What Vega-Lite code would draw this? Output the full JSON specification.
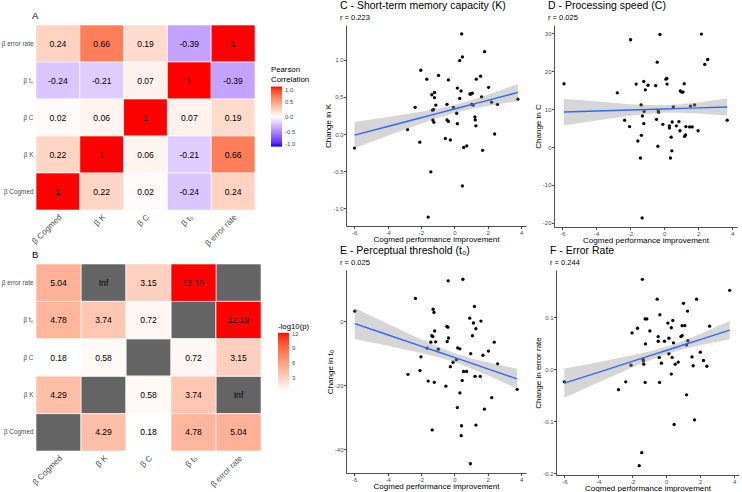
{
  "$schema": "https://vega.github.io/schema/vega-lite/v6.json",
  "padding": {"left": 1, "top": 1, "right": 0, "bottom": 0},
  "background": "white",
  "config": {
    "font": "Liberation Sans",
    "view": {"stroke": null},
    "locale": {"number": {"decimal": ".", "thousands": ",", "grouping": [3], "currency": ["$", ""], "minus": "-"}},
    "title": {"anchor": "start", "frame": "group", "fontWeight": "normal", "color": "black", "font": "Liberation Sans"},
    "axis": {"labelFont": "Liberation Sans", "titleFont": "Liberation Sans", "titleFontWeight": "normal", "titleColor": "black", "labelColor": "#4d4d4d", "grid": false, "labelOverlap": false},
    "axisBand": {"domain": false, "ticks": false, "labelPadding": 3, "labelColor": "#4d4d4d"},
    "axisQuantitative": {"domain": true, "domainColor": "#222222", "domainWidth": 0.8, "ticks": true, "tickColor": "#222222", "tickSize": 2.5, "tickWidth": 0.8, "labelFontSize": 6, "labelPadding": 0.5, "titleFontSize": 8, "titlePadding": 0, "labelFlush": false, "labelOverlap": false, "tickCount": 20},
    "legend": {"titleFont": "Liberation Sans", "labelFont": "Liberation Sans", "titleFontWeight": "normal", "titleColor": "black", "labelColor": "#4d4d4d", "labelFontSize": 6, "titleFontSize": 7.8, "gradientStrokeWidth": 0}
  },
  "datasets": {
    "corr": [
      {"row": "β error rate", "col": "β Cogmed", "r": 0.24},
      {"row": "β error rate", "col": "β K", "r": 0.66},
      {"row": "β error rate", "col": "β C", "r": 0.19},
      {"row": "β error rate", "col": "β t₀", "r": -0.39},
      {"row": "β error rate", "col": "β error rate", "r": 1},
      {"row": "β t₀", "col": "β Cogmed", "r": -0.24},
      {"row": "β t₀", "col": "β K", "r": -0.21},
      {"row": "β t₀", "col": "β C", "r": 0.07},
      {"row": "β t₀", "col": "β t₀", "r": 1},
      {"row": "β t₀", "col": "β error rate", "r": -0.39},
      {"row": "β C", "col": "β Cogmed", "r": 0.02},
      {"row": "β C", "col": "β K", "r": 0.06},
      {"row": "β C", "col": "β C", "r": 1},
      {"row": "β C", "col": "β t₀", "r": 0.07},
      {"row": "β C", "col": "β error rate", "r": 0.19},
      {"row": "β K", "col": "β Cogmed", "r": 0.22},
      {"row": "β K", "col": "β K", "r": 1},
      {"row": "β K", "col": "β C", "r": 0.06},
      {"row": "β K", "col": "β t₀", "r": -0.21},
      {"row": "β K", "col": "β error rate", "r": 0.66},
      {"row": "β Cogmed", "col": "β Cogmed", "r": 1},
      {"row": "β Cogmed", "col": "β K", "r": 0.22},
      {"row": "β Cogmed", "col": "β C", "r": 0.02},
      {"row": "β Cogmed", "col": "β t₀", "r": -0.24},
      {"row": "β Cogmed", "col": "β error rate", "r": 0.24}
    ],
    "logp": [
      {"row": "β error rate", "col": "β Cogmed", "p": 5.04, "label": "5.04"},
      {"row": "β error rate", "col": "β K", "p": null, "label": "Inf"},
      {"row": "β error rate", "col": "β C", "p": 3.15, "label": "3.15"},
      {"row": "β error rate", "col": "β t₀", "p": 12.19, "label": "12.19"},
      {"row": "β error rate", "col": "β error rate", "p": null, "label": ""},
      {"row": "β t₀", "col": "β Cogmed", "p": 4.78, "label": "4.78"},
      {"row": "β t₀", "col": "β K", "p": 3.74, "label": "3.74"},
      {"row": "β t₀", "col": "β C", "p": 0.72, "label": "0.72"},
      {"row": "β t₀", "col": "β t₀", "p": null, "label": ""},
      {"row": "β t₀", "col": "β error rate", "p": 12.19, "label": "12.19"},
      {"row": "β C", "col": "β Cogmed", "p": 0.18, "label": "0.18"},
      {"row": "β C", "col": "β K", "p": 0.58, "label": "0.58"},
      {"row": "β C", "col": "β C", "p": null, "label": ""},
      {"row": "β C", "col": "β t₀", "p": 0.72, "label": "0.72"},
      {"row": "β C", "col": "β error rate", "p": 3.15, "label": "3.15"},
      {"row": "β K", "col": "β Cogmed", "p": 4.29, "label": "4.29"},
      {"row": "β K", "col": "β K", "p": null, "label": ""},
      {"row": "β K", "col": "β C", "p": 0.58, "label": "0.58"},
      {"row": "β K", "col": "β t₀", "p": 3.74, "label": "3.74"},
      {"row": "β K", "col": "β error rate", "p": null, "label": "Inf"},
      {"row": "β Cogmed", "col": "β Cogmed", "p": null, "label": ""},
      {"row": "β Cogmed", "col": "β K", "p": 4.29, "label": "4.29"},
      {"row": "β Cogmed", "col": "β C", "p": 0.18, "label": "0.18"},
      {"row": "β Cogmed", "col": "β t₀", "p": 4.78, "label": "4.78"},
      {"row": "β Cogmed", "col": "β error rate", "p": 5.04, "label": "5.04"}
    ],
    "scatter": [
      {"panel": "C", "x": -5.98, "y": -0.19}, {"panel": "C", "x": -2.80, "y": 0.06}, {"panel": "C", "x": -2.35, "y": 0.36}, {"panel": "C", "x": -2.07, "y": -0.11}, {"panel": "C", "x": -2.01, "y": 0.86}, {"panel": "C", "x": -1.65, "y": 0.74}, {"panel": "C", "x": -1.57, "y": -1.12}, {"panel": "C", "x": -1.41, "y": -0.51}, {"panel": "C", "x": -1.35, "y": 0.53}, {"panel": "C", "x": -1.31, "y": 0.32}, {"panel": "C", "x": -1.25, "y": 0.33}, {"panel": "C", "x": -1.29, "y": 0.19}, {"panel": "C", "x": -1.19, "y": 0.56}, {"panel": "C", "x": -1.19, "y": 0.49}, {"panel": "C", "x": -1.23, "y": 0.16}, {"panel": "C", "x": -1.11, "y": 0.39}, {"panel": "C", "x": -0.95, "y": 0.79}, {"panel": "C", "x": -0.54, "y": -0.06}, {"panel": "C", "x": -0.44, "y": 0.40}, {"panel": "C", "x": -0.44, "y": 0.19}, {"panel": "C", "x": -0.36, "y": 0.73}, {"panel": "C", "x": -0.36, "y": 0.17}, {"panel": "C", "x": -0.24, "y": -0.08}, {"panel": "C", "x": -0.06, "y": 0.36}, {"panel": "C", "x": 0.14, "y": 0.28}, {"panel": "C", "x": 0.18, "y": 0.62}, {"panel": "C", "x": 0.18, "y": 0.14}, {"panel": "C", "x": 0.32, "y": 0.99}, {"panel": "C", "x": 0.32, "y": 0.48}, {"panel": "C", "x": 0.40, "y": 0.58}, {"panel": "C", "x": 0.44, "y": 1.35}, {"panel": "C", "x": 0.48, "y": 1.04}, {"panel": "C", "x": 0.48, "y": -0.70}, {"panel": "C", "x": 0.56, "y": -0.18}, {"panel": "C", "x": 0.74, "y": -0.16}, {"panel": "C", "x": 0.93, "y": 0.54}, {"panel": "C", "x": 0.99, "y": 0.54}, {"panel": "C", "x": 1.03, "y": 0.40}, {"panel": "C", "x": 1.07, "y": 0.55}, {"panel": "C", "x": 1.13, "y": 0.39}, {"panel": "C", "x": 1.23, "y": 0.23}, {"panel": "C", "x": 1.25, "y": 0.19}, {"panel": "C", "x": 1.29, "y": 0.11}, {"panel": "C", "x": 1.31, "y": 0.74}, {"panel": "C", "x": 1.57, "y": 0.78}, {"panel": "C", "x": 1.63, "y": 0.50}, {"panel": "C", "x": 1.69, "y": -0.22}, {"panel": "C", "x": 1.81, "y": 1.11}, {"panel": "C", "x": 2.05, "y": 0.63}, {"panel": "C", "x": 2.23, "y": 0.43}, {"panel": "C", "x": 2.41, "y": 0.00}, {"panel": "C", "x": 2.58, "y": 0.40}, {"panel": "C", "x": 3.80, "y": 0.47},
      {"panel": "D", "x": -5.90, "y": 16.7}, {"panel": "D", "x": -2.76, "y": 14.3}, {"panel": "D", "x": -2.33, "y": 7.1}, {"panel": "D", "x": -2.04, "y": 5.4}, {"panel": "D", "x": -1.98, "y": 28.3}, {"panel": "D", "x": -1.65, "y": 16.6}, {"panel": "D", "x": -1.55, "y": 1.6}, {"panel": "D", "x": -1.40, "y": -2.9}, {"panel": "D", "x": -1.36, "y": 11.1}, {"panel": "D", "x": -1.34, "y": 3.1}, {"panel": "D", "x": -1.30, "y": -18.7}, {"panel": "D", "x": -1.28, "y": 8.2}, {"panel": "D", "x": -1.20, "y": 17.3}, {"panel": "D", "x": -1.20, "y": 6.2}, {"panel": "D", "x": -1.18, "y": 9.4}, {"panel": "D", "x": -1.11, "y": 15.1}, {"panel": "D", "x": -0.95, "y": 16.3}, {"panel": "D", "x": -0.50, "y": 16.2}, {"panel": "D", "x": -0.45, "y": 7.3}, {"panel": "D", "x": -0.41, "y": 22.4}, {"panel": "D", "x": -0.37, "y": 0.2}, {"panel": "D", "x": -0.35, "y": 9.6}, {"panel": "D", "x": -0.33, "y": 9.2}, {"panel": "D", "x": -0.25, "y": 29.7}, {"panel": "D", "x": -0.08, "y": 6.0}, {"panel": "D", "x": 0.10, "y": 17.9}, {"panel": "D", "x": 0.16, "y": 18.1}, {"panel": "D", "x": 0.17, "y": 16.6}, {"panel": "D", "x": 0.31, "y": 5.6}, {"panel": "D", "x": 0.31, "y": 5.0}, {"panel": "D", "x": 0.37, "y": -2.9}, {"panel": "D", "x": 0.41, "y": 2.6}, {"panel": "D", "x": 0.45, "y": -1.0}, {"panel": "D", "x": 0.47, "y": 6.6}, {"panel": "D", "x": 0.54, "y": 10.6}, {"panel": "D", "x": 0.72, "y": 5.6}, {"panel": "D", "x": 0.87, "y": 6.7}, {"panel": "D", "x": 0.93, "y": 4.3}, {"panel": "D", "x": 0.95, "y": 14.8}, {"panel": "D", "x": 1.03, "y": 14.5}, {"panel": "D", "x": 1.11, "y": 14.5}, {"panel": "D", "x": 1.18, "y": 16.7}, {"panel": "D", "x": 1.20, "y": 2.8}, {"panel": "D", "x": 1.26, "y": 3.2}, {"panel": "D", "x": 1.28, "y": 5.4}, {"panel": "D", "x": 1.50, "y": 5.3}, {"panel": "D", "x": 1.55, "y": 10.8}, {"panel": "D", "x": 1.65, "y": 5.3}, {"panel": "D", "x": 1.79, "y": 11.1}, {"panel": "D", "x": 2.00, "y": 4.3}, {"panel": "D", "x": 2.19, "y": 29.8}, {"panel": "D", "x": 2.39, "y": 21.8}, {"panel": "D", "x": 2.56, "y": 23.1}, {"panel": "D", "x": 3.71, "y": 7.1},
      {"panel": "E", "x": -5.96, "y": 3.2}, {"panel": "E", "x": -2.78, "y": -16.6}, {"panel": "E", "x": -2.33, "y": 7.2}, {"panel": "E", "x": -2.06, "y": -15.4}, {"panel": "E", "x": -2.00, "y": -11.1}, {"panel": "E", "x": -1.63, "y": -8.4}, {"panel": "E", "x": -1.57, "y": -18.7}, {"panel": "E", "x": -1.41, "y": -6.5}, {"panel": "E", "x": -1.35, "y": -4.5}, {"panel": "E", "x": -1.33, "y": -34.0}, {"panel": "E", "x": -1.29, "y": -4.7}, {"panel": "E", "x": -1.27, "y": 3.8}, {"panel": "E", "x": -1.22, "y": 2.8}, {"panel": "E", "x": -1.20, "y": -19.1}, {"panel": "E", "x": -1.18, "y": -3.0}, {"panel": "E", "x": -1.12, "y": -6.4}, {"panel": "E", "x": -0.96, "y": -8.7}, {"panel": "E", "x": -0.51, "y": -20.3}, {"panel": "E", "x": -0.45, "y": -1.6}, {"panel": "E", "x": -0.39, "y": -1.8}, {"panel": "E", "x": -0.43, "y": -6.3}, {"panel": "E", "x": -0.35, "y": -5.2}, {"panel": "E", "x": -0.37, "y": 12.7}, {"panel": "E", "x": -0.24, "y": -14.2}, {"panel": "E", "x": -0.08, "y": -12.8}, {"panel": "E", "x": 0.12, "y": -12.0}, {"panel": "E", "x": 0.18, "y": -27.0}, {"panel": "E", "x": 0.20, "y": -8.3}, {"panel": "E", "x": 0.33, "y": -8.6}, {"panel": "E", "x": 0.33, "y": -22.4}, {"panel": "E", "x": 0.41, "y": -35.8}, {"panel": "E", "x": 0.43, "y": -32.7}, {"panel": "E", "x": 0.47, "y": -18.5}, {"panel": "E", "x": 0.51, "y": 13.2}, {"panel": "E", "x": 0.55, "y": -15.7}, {"panel": "E", "x": 0.73, "y": -15.7}, {"panel": "E", "x": 0.92, "y": 1.0}, {"panel": "E", "x": 0.96, "y": -44.6}, {"panel": "E", "x": 0.98, "y": -10.1}, {"panel": "E", "x": 1.08, "y": -4.5}, {"panel": "E", "x": 1.14, "y": -0.5}, {"panel": "E", "x": 1.20, "y": 4.7}, {"panel": "E", "x": 1.24, "y": -17.2}, {"panel": "E", "x": 1.29, "y": -2.3}, {"panel": "E", "x": 1.29, "y": -32.5}, {"panel": "E", "x": 1.59, "y": 0.1}, {"panel": "E", "x": 1.55, "y": -17.2}, {"panel": "E", "x": 1.71, "y": -10.6}, {"panel": "E", "x": 1.80, "y": -27.5}, {"panel": "E", "x": 2.04, "y": -9.3}, {"panel": "E", "x": 2.24, "y": -23.9}, {"panel": "E", "x": 2.39, "y": -6.5}, {"panel": "E", "x": 2.59, "y": -13.3}, {"panel": "E", "x": 3.76, "y": -21.3},
      {"panel": "F", "x": -6.00, "y": -0.024}, {"panel": "F", "x": -2.81, "y": -0.039}, {"panel": "F", "x": -2.38, "y": -0.024}, {"panel": "F", "x": -2.07, "y": 0.008}, {"panel": "F", "x": -2.01, "y": 0.070}, {"panel": "F", "x": -1.69, "y": 0.079}, {"panel": "F", "x": -1.59, "y": -0.185}, {"panel": "F", "x": -1.44, "y": -0.160}, {"panel": "F", "x": -1.40, "y": 0.173}, {"panel": "F", "x": -1.36, "y": 0.019}, {"panel": "F", "x": -1.34, "y": 0.016}, {"panel": "F", "x": -1.32, "y": 0.010}, {"panel": "F", "x": -1.24, "y": 0.097}, {"panel": "F", "x": -1.24, "y": -0.025}, {"panel": "F", "x": -1.22, "y": 0.049}, {"panel": "F", "x": -1.14, "y": 0.097}, {"panel": "F", "x": -0.96, "y": 0.074}, {"panel": "F", "x": -0.53, "y": 0.135}, {"panel": "F", "x": -0.47, "y": 0.063}, {"panel": "F", "x": -0.47, "y": 0.054}, {"panel": "F", "x": -0.41, "y": 0.023}, {"panel": "F", "x": -0.39, "y": -0.025}, {"panel": "F", "x": -0.37, "y": 0.105}, {"panel": "F", "x": -0.28, "y": 0.012}, {"panel": "F", "x": -0.10, "y": 0.054}, {"panel": "F", "x": 0.10, "y": 0.089}, {"panel": "F", "x": 0.16, "y": 0.030}, {"panel": "F", "x": 0.16, "y": 0.060}, {"panel": "F", "x": 0.30, "y": 0.080}, {"panel": "F", "x": 0.30, "y": -0.009}, {"panel": "F", "x": 0.35, "y": 0.023}, {"panel": "F", "x": 0.39, "y": 0.094}, {"panel": "F", "x": 0.43, "y": 0.051}, {"panel": "F", "x": 0.47, "y": -0.106}, {"panel": "F", "x": 0.53, "y": 0.010}, {"panel": "F", "x": 0.71, "y": 0.014}, {"panel": "F", "x": 0.87, "y": 0.063}, {"panel": "F", "x": 0.94, "y": 0.084}, {"panel": "F", "x": 0.94, "y": 0.065}, {"panel": "F", "x": 1.02, "y": 0.127}, {"panel": "F", "x": 1.10, "y": 0.084}, {"panel": "F", "x": 1.20, "y": -0.049}, {"panel": "F", "x": 1.20, "y": 0.047}, {"panel": "F", "x": 1.26, "y": 0.112}, {"panel": "F", "x": 1.28, "y": 0.055}, {"panel": "F", "x": 1.52, "y": 0.024}, {"panel": "F", "x": 1.59, "y": 0.007}, {"panel": "F", "x": 1.67, "y": -0.097}, {"panel": "F", "x": 1.79, "y": 0.135}, {"panel": "F", "x": 2.01, "y": 0.033}, {"panel": "F", "x": 2.20, "y": 0.017}, {"panel": "F", "x": 2.40, "y": 0.006}, {"panel": "F", "x": 2.56, "y": 0.083}, {"panel": "F", "x": 3.74, "y": 0.152}
    ],
    "fit": [
      {"panel": "C", "x": -5.98, "y": -0.015, "lo": -0.193, "hi": 0.163},
      {"panel": "C", "x": -4, "y": 0.102, "lo": -0.024, "hi": 0.228},
      {"panel": "C", "x": -2, "y": 0.220, "lo": 0.140, "hi": 0.300},
      {"panel": "C", "x": -1, "y": 0.278, "lo": 0.215, "hi": 0.341},
      {"panel": "C", "x": 0, "y": 0.337, "lo": 0.282, "hi": 0.392},
      {"panel": "C", "x": 1, "y": 0.396, "lo": 0.336, "hi": 0.456},
      {"panel": "C", "x": 2, "y": 0.454, "lo": 0.378, "hi": 0.530},
      {"panel": "C", "x": 3.8, "y": 0.560, "lo": 0.444, "hi": 0.676},
      {"panel": "D", "x": -5.9, "y": 9.24, "lo": 5.71, "hi": 12.77},
      {"panel": "D", "x": -4, "y": 9.50, "lo": 7.00, "hi": 12.00},
      {"panel": "D", "x": -2, "y": 9.78, "lo": 8.24, "hi": 11.32},
      {"panel": "D", "x": -1, "y": 9.91, "lo": 8.74, "hi": 11.08},
      {"panel": "D", "x": 0, "y": 10.05, "lo": 9.05, "hi": 11.05},
      {"panel": "D", "x": 1, "y": 10.19, "lo": 9.07, "hi": 11.31},
      {"panel": "D", "x": 2, "y": 10.32, "lo": 8.86, "hi": 11.78},
      {"panel": "D", "x": 3.71, "y": 10.56, "lo": 8.30, "hi": 12.82},
      {"panel": "E", "x": -5.96, "y": -0.69, "lo": -5.55, "hi": 4.17},
      {"panel": "E", "x": -4, "y": -4.18, "lo": -7.60, "hi": -0.76},
      {"panel": "E", "x": -2, "y": -7.74, "lo": -9.88, "hi": -5.60},
      {"panel": "E", "x": -1, "y": -9.52, "lo": -11.16, "hi": -7.88},
      {"panel": "E", "x": 0, "y": -11.3, "lo": -12.72, "hi": -9.88},
      {"panel": "E", "x": 1, "y": -13.08, "lo": -14.65, "hi": -11.51},
      {"panel": "E", "x": 2, "y": -14.86, "lo": -16.88, "hi": -12.84},
      {"panel": "E", "x": 3.76, "y": -18.0, "lo": -21.13, "hi": -14.87},
      {"panel": "F", "x": -6, "y": -0.0265, "lo": -0.0545, "hi": 0.0015},
      {"panel": "F", "x": -4, "y": -0.0056, "lo": -0.0251, "hi": 0.0139},
      {"panel": "F", "x": -2, "y": 0.0154, "lo": 0.0037, "hi": 0.0271},
      {"panel": "F", "x": -1, "y": 0.0258, "lo": 0.0173, "hi": 0.0343},
      {"panel": "F", "x": 0, "y": 0.0363, "lo": 0.0293, "hi": 0.0433},
      {"panel": "F", "x": 1, "y": 0.0468, "lo": 0.0387, "hi": 0.0549},
      {"panel": "F", "x": 2, "y": 0.0572, "lo": 0.0462, "hi": 0.0682},
      {"panel": "F", "x": 3.74, "y": 0.0755, "lo": 0.0578, "hi": 0.0932}
    ]
  },
  "spacing": 14,
  "resolve": {"scale": {"color": "independent", "x": "independent", "y": "independent"}, "legend": {"color": "independent"}},
  "hconcat": [
    {
      "spacing": 3,
      "resolve": {"scale": {"color": "independent"}, "legend": {"color": "independent"}},
      "vconcat": [
        {
          "width": 219, "height": 185,
          "title": {"text": "A", "fontSize": 9.5, "dx": -4, "offset": 4},
          "data": {"name": "corr"},
          "encoding": {
            "x": {"field": "col", "type": "nominal", "sort": ["β Cogmed", "β K", "β C", "β t₀", "β error rate"], "axis": {"title": null, "labelAngle": -45, "labelAlign": "right", "labelBaseline": "top", "labelFontSize": 8.2}},
            "y": {"field": "row", "type": "nominal", "sort": ["β error rate", "β t₀", "β C", "β K", "β Cogmed"], "axis": {"title": null, "labelFontSize": 6.4}}
          },
          "layer": [
            {
              "mark": {"type": "rect", "stroke": "white", "strokeWidth": 0.6},
              "encoding": {
                "color": {"field": "r", "type": "quantitative", "scale": {"domain": [-1, 0, 1], "range": ["blue", "white", "red"], "interpolate": "lab"},
                  "legend": {"title": ["Pearson", "Correlation"], "orient": "none", "direction": "vertical", "legendX": 235, "legendY": 41, "gradientLength": 60, "gradientThickness": 11, "values": [-1, -0.5, 0, 0.5, 1], "format": ".1f", "titlePadding": 3, "labelOffset": 3}}
              }
            },
            {
              "mark": {"type": "text", "fontSize": 8.6, "color": "black"},
              "encoding": {"text": {"field": "r", "type": "quantitative", "format": ".2~f"}}
            }
          ]
        },
        {
          "width": 225, "height": 187,
          "title": {"text": "B", "fontSize": 9.5, "dx": -4, "offset": 4},
          "data": {"name": "logp"},
          "encoding": {
            "x": {"field": "col", "type": "nominal", "sort": ["β Cogmed", "β K", "β C", "β t₀", "β error rate"], "axis": {"title": null, "labelAngle": -45, "labelAlign": "right", "labelBaseline": "top", "labelFontSize": 8.2}},
            "y": {"field": "row", "type": "nominal", "sort": ["β error rate", "β t₀", "β C", "β K", "β Cogmed"], "axis": {"title": null, "labelFontSize": 6.4}}
          },
          "layer": [
            {"mark": {"type": "rect", "color": "#646464", "stroke": "white", "strokeWidth": 0.6}},
            {
              "transform": [{"filter": "datum.p != null"}],
              "mark": {"type": "rect", "stroke": "white", "strokeWidth": 0.6},
              "encoding": {
                "color": {"field": "p", "type": "quantitative", "scale": {"domain": [0.18, 12.19], "range": ["white", "red"], "interpolate": "lab"},
                  "legend": {"title": "-log10(p)", "orient": "none", "direction": "vertical", "legendX": 242, "legendY": 59, "gradientLength": 59, "gradientThickness": 11, "values": [3, 6, 9, 12], "titlePadding": 2, "labelOffset": 3}}
              }
            },
            {
              "mark": {"type": "text", "fontSize": 8.6, "color": "black"},
              "encoding": {"text": {"field": "label", "type": "nominal"}}
            }
          ]
        }
      ]
    },
    {
      "spacing": 2,
      "vconcat": [
        {
          "spacing": 8,
          "hconcat": [
            {
              "width": 180, "height": 201,
              "title": {"text": "C - Short-term memory capacity (K)", "subtitle": "r = 0.223", "fontSize": 10.5, "subtitleFontSize": 7.5, "subtitleColor": "black", "subtitlePadding": 2, "offset": 4, "dx": -6},
              "layer": [
                {"data": {"name": "scatter"}, "transform": [{"filter": "datum.panel == 'C'"}], "mark": {"type": "point", "filled": true, "color": "black", "size": 11, "opacity": 1},
                  "encoding": {"x": {"field": "x", "type": "quantitative", "scale": {"domain": [-6.49, 4.29], "nice": false, "zero": false}, "axis": {"values": [-6, -4, -2, 0, 2, 4], "format": "d", "tickCount": 20, "labelOverlap": false, "title": "Cogmed performance improvement"}},
                    "y": {"field": "y", "type": "quantitative", "scale": {"domain": [-1.24, 1.47], "nice": false, "zero": false}, "axis": {"values": [-1, -0.5, 0, 0.5, 1], "tickCount": 20, "labelOverlap": false, "format": ".1f", "title": "Change in K"}}}},
                {"data": {"name": "fit"}, "transform": [{"filter": "datum.panel == 'C'"}], "mark": {"type": "area", "color": "#999999", "opacity": 0.4},
                  "encoding": {"x": {"field": "x", "type": "quantitative"}, "y": {"field": "lo", "type": "quantitative"}, "y2": {"field": "hi"}}},
                {"data": {"name": "fit"}, "transform": [{"filter": "datum.panel == 'C'"}], "mark": {"type": "line", "color": "#3366FF", "strokeWidth": 1.4},
                  "encoding": {"x": {"field": "x", "type": "quantitative"}, "y": {"field": "y", "type": "quantitative"}}}
              ]
            },
            {
              "width": 183, "height": 202,
              "title": {"text": "D - Processing speed (C)", "subtitle": "r = 0.025", "fontSize": 10.5, "subtitleFontSize": 7.5, "subtitleColor": "black", "subtitlePadding": 2, "offset": 4, "dx": -6},
              "layer": [
                {"data": {"name": "scatter"}, "transform": [{"filter": "datum.panel == 'D'"}], "mark": {"type": "point", "filled": true, "color": "black", "size": 11, "opacity": 1},
                  "encoding": {"x": {"field": "x", "type": "quantitative", "scale": {"domain": [-6.49, 4.29], "nice": false, "zero": false}, "axis": {"values": [-6, -4, -2, 0, 2, 4], "format": "d", "tickCount": 20, "labelOverlap": false, "title": "Cogmed performance improvement"}},
                    "y": {"field": "y", "type": "quantitative", "scale": {"domain": [-21.1, 32.2], "nice": false, "zero": false}, "axis": {"values": [-20, -10, 0, 10, 20, 30], "format": "d", "tickCount": 20, "labelOverlap": false, "title": "Change in C"}}}},
                {"data": {"name": "fit"}, "transform": [{"filter": "datum.panel == 'D'"}], "mark": {"type": "area", "color": "#999999", "opacity": 0.4},
                  "encoding": {"x": {"field": "x", "type": "quantitative"}, "y": {"field": "lo", "type": "quantitative"}, "y2": {"field": "hi"}}},
                {"data": {"name": "fit"}, "transform": [{"filter": "datum.panel == 'D'"}], "mark": {"type": "line", "color": "#3366FF", "strokeWidth": 1.4},
                  "encoding": {"x": {"field": "x", "type": "quantitative"}, "y": {"field": "y", "type": "quantitative"}}}
              ]
            }
          ]
        },
        {
          "spacing": 8,
          "hconcat": [
            {
              "width": 180, "height": 203,
              "title": {"text": "E - Perceptual threshold (t₀)", "subtitle": "r = 0.025", "fontSize": 10.5, "subtitleFontSize": 7.5, "subtitleColor": "black", "subtitlePadding": 2, "offset": 4, "dx": -6},
              "layer": [
                {"data": {"name": "scatter"}, "transform": [{"filter": "datum.panel == 'E'"}], "mark": {"type": "point", "filled": true, "color": "black", "size": 11, "opacity": 1},
                  "encoding": {"x": {"field": "x", "type": "quantitative", "scale": {"domain": [-6.49, 4.29], "nice": false, "zero": false}, "axis": {"values": [-6, -4, -2, 0, 2, 4], "format": "d", "tickCount": 20, "labelOverlap": false, "title": "Cogmed performance improvement"}},
                    "y": {"field": "y", "type": "quantitative", "scale": {"domain": [-47.5, 16.1], "nice": false, "zero": false}, "axis": {"values": [-40, -20, 0], "format": "d", "tickCount": 20, "labelOverlap": false, "title": "Change in t₀"}}}},
                {"data": {"name": "fit"}, "transform": [{"filter": "datum.panel == 'E'"}], "mark": {"type": "area", "color": "#999999", "opacity": 0.4},
                  "encoding": {"x": {"field": "x", "type": "quantitative"}, "y": {"field": "lo", "type": "quantitative"}, "y2": {"field": "hi"}}},
                {"data": {"name": "fit"}, "transform": [{"filter": "datum.panel == 'E'"}], "mark": {"type": "line", "color": "#3366FF", "strokeWidth": 1.4},
                  "encoding": {"x": {"field": "x", "type": "quantitative"}, "y": {"field": "y", "type": "quantitative"}}}
              ]
            },
            {
              "width": 183, "height": 205,
              "title": {"text": "F - Error Rate", "subtitle": "r = 0.244", "fontSize": 10.5, "subtitleFontSize": 7.5, "subtitleColor": "black", "subtitlePadding": 2, "offset": 4, "dx": -6},
              "layer": [
                {"data": {"name": "scatter"}, "transform": [{"filter": "datum.panel == 'F'"}], "mark": {"type": "point", "filled": true, "color": "black", "size": 11, "opacity": 1},
                  "encoding": {"x": {"field": "x", "type": "quantitative", "scale": {"domain": [-6.49, 4.29], "nice": false, "zero": false}, "axis": {"values": [-6, -4, -2, 0, 2, 4], "format": "d", "tickCount": 20, "labelOverlap": false, "title": "Cogmed performance improvement"}},
                    "y": {"field": "y", "type": "quantitative", "scale": {"domain": [-0.203, 0.191], "nice": false, "zero": false}, "axis": {"values": [-0.2, -0.1, 0, 0.1], "tickCount": 20, "labelOverlap": false, "format": ".1f", "title": "Change in error rate"}}}},
                {"data": {"name": "fit"}, "transform": [{"filter": "datum.panel == 'F'"}], "mark": {"type": "area", "color": "#999999", "opacity": 0.4},
                  "encoding": {"x": {"field": "x", "type": "quantitative"}, "y": {"field": "lo", "type": "quantitative"}, "y2": {"field": "hi"}}},
                {"data": {"name": "fit"}, "transform": [{"filter": "datum.panel == 'F'"}], "mark": {"type": "line", "color": "#3366FF", "strokeWidth": 1.4},
                  "encoding": {"x": {"field": "x", "type": "quantitative"}, "y": {"field": "y", "type": "quantitative"}}}
              ]
            }
          ]
        }
      ]
    }
  ]
}
